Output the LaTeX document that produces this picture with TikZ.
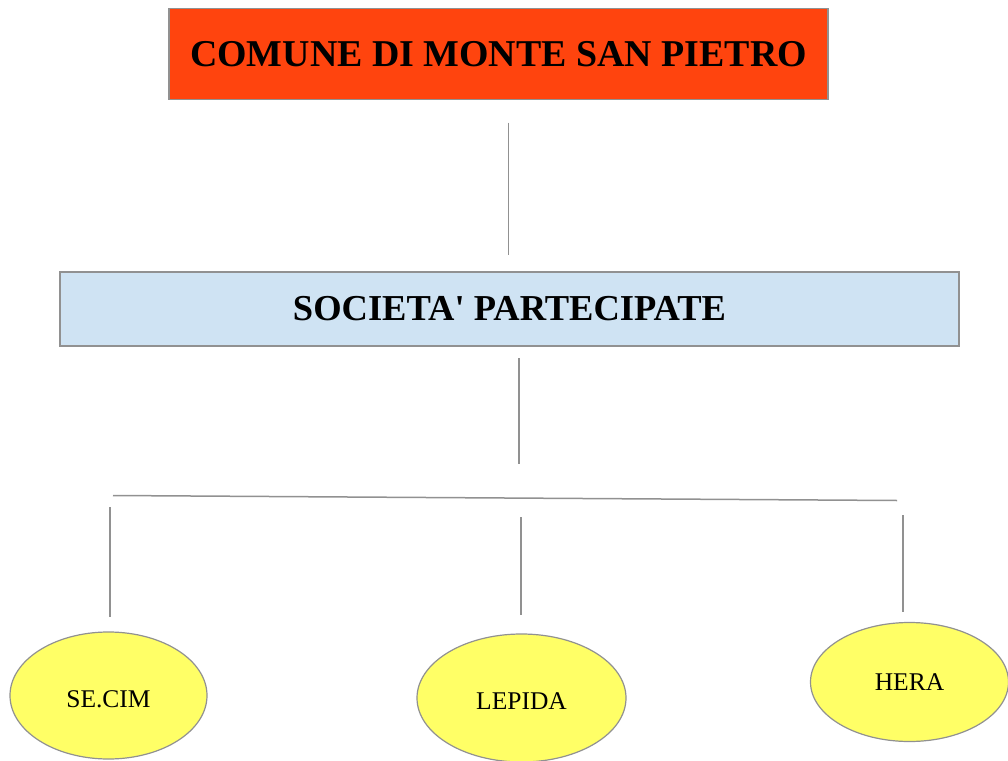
\documentclass[tikz,border=0pt]{standalone}
\usepackage{fontspec}
\setmainfont{Liberation Serif}[Ligatures=TeXOff]
\usetikzlibrary{shapes.geometric}
\definecolor{titlered}{RGB}{255,68,14}
\definecolor{lightblue}{RGB}{207,227,243}
\definecolor{ellyellow}{RGB}{255,255,102}
\definecolor{edgegray}{RGB}{145,145,145}
\definecolor{linegray}{RGB}{145,145,145}
\tikzset{
  boxstyle/.style={draw=edgegray, line width=1.2bp, inner sep=0pt, anchor=center},
  ovalstyle/.style={ellipse, draw=edgegray, line width=1.2bp, fill=ellyellow, inner sep=0pt,
     font=\fontsize{25.5bp}{28bp}\selectfont},
  lowtext/.style={text height=23bp, text depth=0bp},
  linkstyle/.style={draw=linegray, line width=1.5bp}
}
\begin{document}
\begin{tikzpicture}[x=1bp,y=-1bp]
\useasboundingbox (0,0) rectangle (1008,761);
\node[boxstyle, fill=titlered, minimum width=659bp, minimum height=91bp,
      font=\fontsize{37.9bp}{40bp}\selectfont\bfseries] (comune) at (498.5,54) {COMUNE DI MONTE SAN PIETRO};
\node[boxstyle, fill=lightblue, minimum width=899bp, minimum height=74bp,
      font=\fontsize{36.5bp}{40bp}\selectfont\bfseries] (societa) at (509.5,309) {SOCIETA' PARTECIPATE};
\node[ovalstyle, lowtext, minimum width=197bp, minimum height=127bp] (secim) at (108.5,695.5) {SE.CIM};
\node[ovalstyle, lowtext, minimum width=209bp, minimum height=128bp] (lepida) at (521.5,698) {LEPIDA};
\node[ovalstyle, minimum width=198bp, minimum height=119bp] (hera) at (909.5,682) {HERA};

\coordinate (c1a) at (508.5,122.5);
\coordinate (c1b) at (508.5,255);
\coordinate (c2a) at (519,358);
\coordinate (c2b) at (519,464);
\coordinate (hl) at (113,495.5);
\coordinate (hr) at (897,500.5);
\coordinate (s1a) at (110,507);
\coordinate (s1b) at (110,617);
\coordinate (s2a) at (521,517);
\coordinate (s2b) at (521,615);
\coordinate (s3a) at (903,515);
\coordinate (s3b) at (903,612);

\draw[linkstyle] (c1a) -- (c1b);
\draw[linkstyle] (c2a) -- (c2b);
\draw[linkstyle] (hl) -- (hr);
\draw[linkstyle] (s1a) -- (s1b);
\draw[linkstyle] (s2a) -- (s2b);
\draw[linkstyle] (s3a) -- (s3b);
\end{tikzpicture}
\end{document}
